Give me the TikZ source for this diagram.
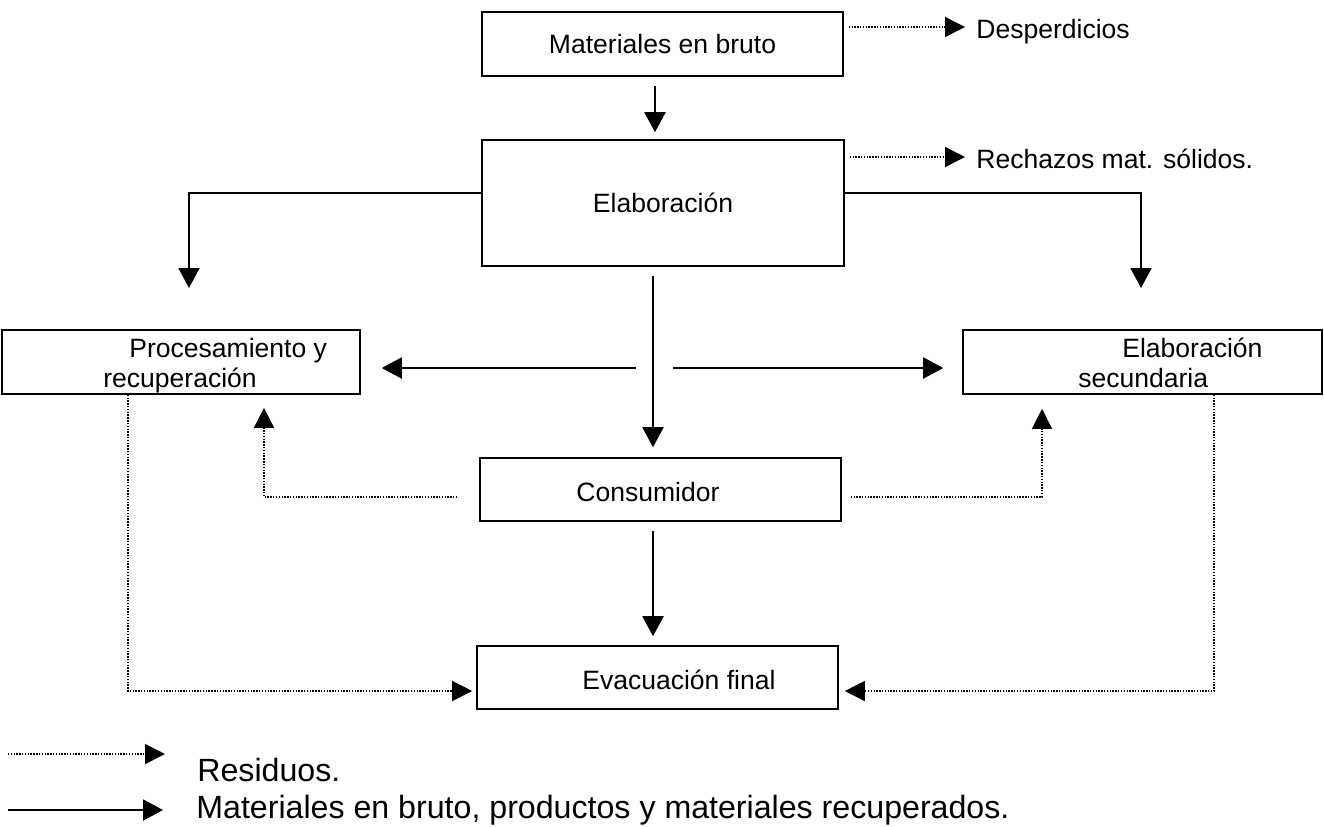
\documentclass[tikz,border=0pt]{standalone}
\usepackage{fontspec}
\setmainfont{Liberation Sans}
\usetikzlibrary{arrows.meta,calc}
\begin{document}
\begin{tikzpicture}[x=0.02cm,y=-0.02cm,
  box/.style 2 args={draw, line width=0.9pt, inner sep=0pt,
    minimum width=#1*0.02cm, minimum height=#2*0.02cm,
    font=\fontsize{15.1}{18}\selectfont},
  lbl/.style={inner sep=0pt, anchor=base west, font=\fontsize{15.1}{18}\selectfont},
  leg/.style={inner sep=0pt, anchor=base west, font=\fontsize{18.3}{21}\selectfont},
  flow/.style={line width=1.15pt, -{Triangle[length=0.4cm,width=0.42cm]}},
  waste/.style={line width=0.8pt, dash pattern=on 0.8pt off 0.8pt,
    -{Triangle[length=0.4cm,width=0.4cm]}}]
\useasboundingbox (0,0) rectangle (1324,826);

% boxes
\node[box={361}{64}]  (mat)  at (662.5,44)   {Materiales en bruto};
\node[box={362}{126}] (elab) at (663,203)    {Elaboración};
\node[box={358}{64}]  (proc) at (181,362)    {};
\node[box={359}{64}]  (sec)  at (1142.5,362) {};
\node[box={361}{63}]  (cons) at (660.5,489.5) {};
\node[box={361}{63}]  (evac) at (657.5,677.5) {};

% box texts set off-centre
\node[lbl] (proct1) at (129,357)  {Procesamiento y};
\node[lbl] (proct2) at (103,387)  {recuperación};
\node[lbl] (sect1)  at (1122,357) {Elaboración};
\node[lbl] (sect2)  at (1078,387) {secundaria};
\node[lbl] (const)  at (576,501)  {Consumidor};
\node[lbl] (evact)  at (582,689)  {Evacuación final};

% waste outputs at the top
\node[lbl] (desp) at (976,38)  {Desperdicios};
\node[lbl] (rech) at (976,168) {Rechazos mat. sólidos.};
\draw[waste] ($(mat.east)+(5,-17)$) -- ($(desp.base west)+(-11,-11)$);
\draw[waste] ($(elab.east)+(5,-46)$) -- ($(rech.base west)+(-11,-11)$);

% main material flow
\coordinate (ldrop) at (189,288);
\coordinate (rdrop) at (1141,288);
\coordinate (hl) at (636,368);
\coordinate (hr) at (673,368);
\draw[flow] ($(mat.south)+(-7.5,9)$) -- ($(elab.north)+(-8,-7)$);
\draw[flow] ($(elab.west)+(0,-10)$) -| (ldrop);
\draw[flow] ($(elab.east)+(0,-10)$) -| (rdrop);
\draw[flow] ($(elab.south)+(-10,9)$) -- ($(cons.north)+(-7.5,-10)$);
\draw[flow] (hl) -- ($(proc.east)+(21,6)$);
\draw[flow] (hr) -- ($(sec.west)+(-19,6)$);
\draw[flow] ($(cons.south)+(-7.5,9)$) -- ($(evac.north)+(-4.5,-9)$);

% residues
\draw[waste] ($(cons.west)+(-22,7.5)$) -| ($(proc.south)+(83,13)$);
\draw[waste] ($(cons.east)+(9,7.5)$) -| ($(sec.south)+(-100.5,14)$);
\draw[waste] ($(proc.south)+(-53,0)$) |- ($(evac.west)+(-4,13.5)$);
\draw[waste] ($(sec.south)+(71.5,0)$) |- ($(evac.east)+(6,13.5)$);

% legend
\coordinate (l1a) at (8,754);
\coordinate (l1b) at (165,754);
\coordinate (l2a) at (8,810);
\coordinate (l2b) at (163,810);
\draw[waste] (l1a) -- (l1b);
\draw[flow] (l2a) -- (l2b);
\node[leg] (legres) at (197,781) {Residuos.};
\node[leg] (legmat) at (196,818) {Materiales en bruto, productos y materiales recuperados.};
\end{tikzpicture}
\end{document}
